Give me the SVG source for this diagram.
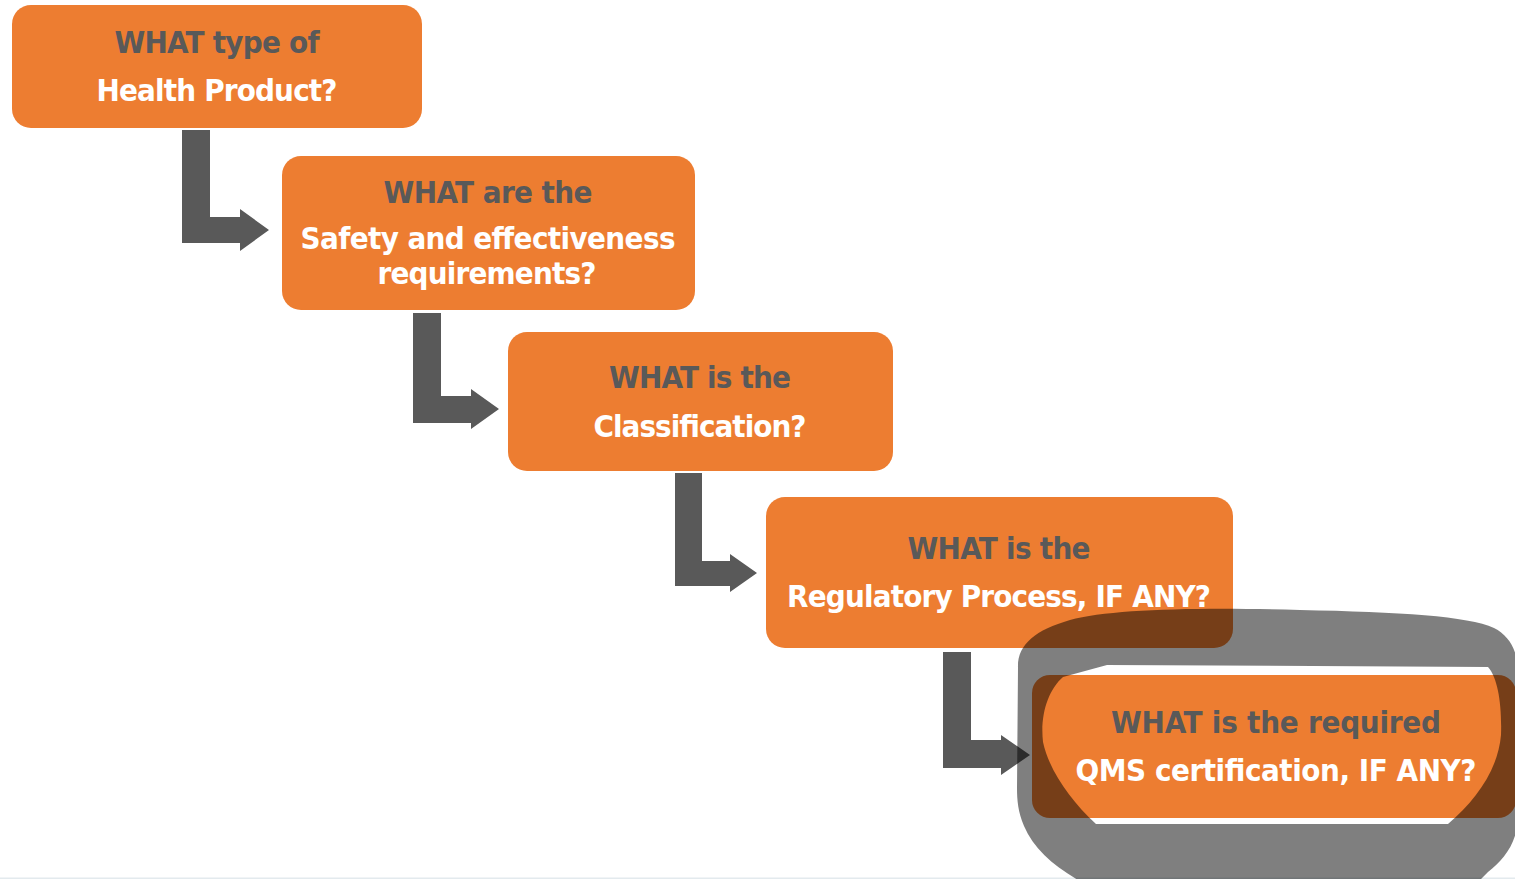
<svg xmlns="http://www.w3.org/2000/svg" width="1515" height="879" viewBox="0 0 1515 879">
  <defs>
    <style>
      .box { fill: #ED7D31; }
      .arrow { fill: #595959; }
      .t { font-family: "DejaVu Sans Condensed", "DejaVu Sans", sans-serif; font-stretch: condensed; font-weight: bold; font-size: 31px; text-anchor: middle; }
      .q { fill: #595959; }
      .w { fill: #FFFFFF; }
      .mark { fill: #000000; fill-opacity: 0.5; fill-rule: evenodd; }
    </style>
  </defs>

  <rect x="0" y="0" width="1515" height="879" fill="#FFFFFF"/>
  <rect x="0" y="877.5" width="1515" height="1.5" fill="#E3EAEE"/>

  <!-- step connectors: L-shaped block arrows -->
  <g id="connectors">
    <polygon class="arrow" points="182,130 210,130 210,217 240,217 240,209 269,230 240,251 240,243 182,243"/>
    <polygon class="arrow" points="413,313 441,313 441,396 471,396 471,389 499,409 471,429 471,423 413,423"/>
    <polygon class="arrow" points="675,473 702,473 702,561 730,561 730,554 757,573 730,592 730,586 675,586"/>
    <polygon class="arrow" points="943,652 971,652 971,740 1001,740 1001,735 1030,755 1001,775 1001,768 943,768"/>
  </g>

  <g id="node-product">
    <rect class="box" x="12" y="5" width="410" height="123" rx="19"/>
    <text class="t q" x="217" y="53" textLength="205" lengthAdjust="spacing">WHAT type of</text>
    <text class="t w" x="217" y="101" textLength="241" lengthAdjust="spacing">Health Product?</text>
  </g>

  <g id="node-requirements">
    <rect class="box" x="282" y="156" width="413" height="154" rx="19"/>
    <text class="t q" x="488" y="203" textLength="209" lengthAdjust="spacing">WHAT are the</text>
    <text class="t w" x="488" y="249" textLength="375" lengthAdjust="spacing">Safety and effectiveness</text>
    <text class="t w" x="487" y="284" textLength="219" lengthAdjust="spacing">requirements?</text>
  </g>

  <g id="node-classification">
    <rect class="box" x="508" y="332" width="385" height="139" rx="19"/>
    <text class="t q" x="700" y="388" textLength="182" lengthAdjust="spacing">WHAT is the</text>
    <text class="t w" x="700" y="437" textLength="213" lengthAdjust="spacing">Classification?</text>
  </g>

  <g id="node-regulatory">
    <rect class="box" x="766" y="497" width="467" height="151" rx="19"/>
    <text class="t q" x="999" y="559" textLength="183" lengthAdjust="spacing">WHAT is the</text>
    <text class="t w" x="999" y="607" textLength="424" lengthAdjust="spacing">Regulatory Process, IF ANY?</text>
  </g>

  <g id="node-qms">
    <rect class="box" x="1032" y="675" width="484" height="143" rx="18"/>
    <text class="t q" x="1276" y="733" textLength="330" lengthAdjust="spacing">WHAT is the required</text>
    <text class="t w" x="1276" y="781" textLength="401" lengthAdjust="spacing">QMS certification, IF ANY?</text>
  </g>

  <!-- hand-drawn emphasis ring around the last step -->
  <g id="emphasis">
    <path class="mark" d="M1018,668 C1017,645 1035,630 1070,620 C1110,609 1200,607 1300,610 C1400,612 1468,616 1494,628 C1510,636 1518,652 1518,672 L1518,820 C1516,845 1503,860 1488,872 L1476,884 L1085,884 C1056,868 1034,850 1024,826 C1018,812 1017,800 1017,788 Z M1107,665 L1488,667 C1498,678 1502,705 1501,735 C1498,770 1476,800 1448,824 L1096,824 C1070,800 1049,770 1043,742 C1040,715 1048,690 1063,677 Z"/>
  </g>
</svg>
